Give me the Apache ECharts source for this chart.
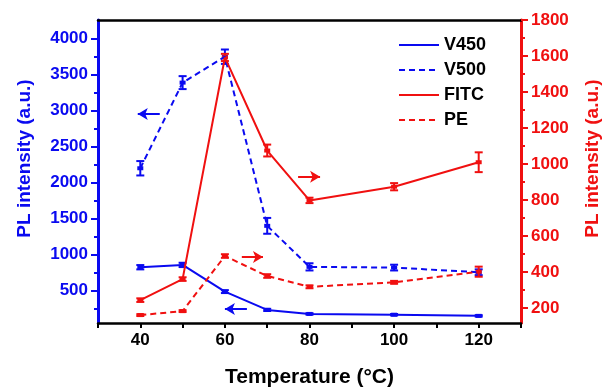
<!DOCTYPE html>
<html>
<head>
<meta charset="utf-8">
<script src="https://cdn.jsdelivr.net/npm/echarts@6/dist/echarts.min.js"></script>
<style>
  html, body { margin: 0; padding: 0; background: #fff; }
  #chart { width: 605px; height: 387px; }
</style>
</head>
<body>
<div id="chart"></div>
<script>
// temperatures (°C)
const temps = [40, 50, 60, 70, 80, 100, 120];

// left axis series
const v450 = [825, 857, 486, 232, 176, 165, 149];
const v450Err = [30, 30, 20, 15, 10, 10, 10];
const v500 = [2200, 3390, 3750, 1400, 830, 820, 755];
const v500Err = [100, 90, 100, 110, 50, 40, 40];

// right axis series
const fitc = [244, 361, 1592, 1075, 798, 874, 1010];
const fitcErr = [10, 10, 20, 33, 15, 20, 55];
const pe = [161, 183, 489, 378, 318, 343, 402];
const peErr = [5, 5, 10, 10, 8, 8, 28];

// tick labels
const xLabels = [40, 60, 80, 100, 120];
const leftLabels = [500, 1000, 1500, 2000, 2500, 3000, 3500, 4000];
const leftMinor = [250, 750, 1250, 1750, 2250, 2750, 3250, 3750];
const rightLabels = [200, 400, 600, 800, 1000, 1200, 1400, 1600, 1800];
const rightMinor = [300, 500, 700, 900, 1100, 1300, 1500, 1700];

const BLUE = '#0a0af0';
const RED = '#f01010';
const FONT = '"Liberation Sans", Arial, sans-serif';
const plain = v => String(v);

function errorSeries(name, vals, errs, color, yIdx) {
  return {
    type: 'custom',
    name: name + ' err',
    yAxisIndex: yIdx,
    silent: true,
    z: 3,
    data: temps.map((t, i) => [t, vals[i], errs[i]]),
    encode: { x: 0, y: 1 },
    renderItem: (params, api) => {
      const x = api.value(0), y = api.value(1), e = api.value(2);
      const p = api.coord([x, y]);
      const hi = api.coord([x, y + e]);
      const lo = api.coord([x, y - e]);
      const w = 4;
      const style = { stroke: color, lineWidth: 2 };
      return {
        type: 'group',
        children: [
          { type: 'line', shape: { x1: p[0], y1: hi[1], x2: p[0], y2: lo[1] }, style },
          { type: 'line', shape: { x1: p[0] - w, y1: hi[1], x2: p[0] + w, y2: hi[1] }, style },
          { type: 'line', shape: { x1: p[0] - w, y1: lo[1], x2: p[0] + w, y2: lo[1] }, style },
          { type: 'rect', shape: { x: p[0] - 3, y: p[1] - 2, width: 6, height: 4 }, style: { fill: color } }
        ]
      };
    }
  };
}

function arrow(from, to, color) {
  return {
    silent: true,
    symbol: ['none', 'arrow'],
    symbolSize: [9, 10],
    label: { show: false },
    emphasis: { disabled: true },
    lineStyle: { color: color, width: 2, type: 'solid' },
    data: [[{ coord: from }, { coord: to }]]
  };
}

function lineSeries(name, vals, color, dashed, yIdx, mark) {
  return {
    type: 'line',
    name: name,
    yAxisIndex: yIdx,
    symbol: 'none',
    data: temps.map((t, i) => [t, vals[i]]),
    lineStyle: { color: color, width: 2, type: dashed ? [6, 4] : 'solid' },
    itemStyle: { color: color },
    emphasis: { disabled: true },
    markLine: mark
  };
}

const chart = echarts.init(document.getElementById('chart'));
chart.setOption({
  animation: false,
  backgroundColor: '#fff',
  textStyle: { fontFamily: FONT },
  grid: { left: 98, right: 84, top: 20, bottom: 64, outerBoundsMode: 'none', containLabel: false },
  legend: {
    data: ['V450', 'V500', 'FITC', 'PE'],
    orient: 'vertical',
    left: 393,
    top: 30,
    itemWidth: 40,
    itemHeight: 14,
    itemGap: 5,
    itemStyle: { opacity: 0 },
    textStyle: { fontFamily: FONT, fontWeight: 'bold', fontSize: 18, color: '#000', lineHeight: 20 }
  },
  xAxis: [
    {
      type: 'value',
      min: 30,
      max: 130,
      interval: 10,
      name: 'Temperature (°C)',
      nameLocation: 'middle',
      nameGap: 44,
      nameTextStyle: { fontFamily: FONT, fontWeight: 'bold', fontSize: 21, color: '#000' },
      axisLine: { show: true, lineStyle: { color: '#000', width: 2.5 } },
      axisTick: { show: true, inside: false, length: 5, lineStyle: { color: '#000', width: 2 } },
      axisLabel: { customValues: xLabels, formatter: plain, margin: 9, fontFamily: FONT, fontWeight: 'bold', fontSize: 17, color: '#000' },
      splitLine: { show: false }
    },
    {
      type: 'value',
      position: 'top',
      min: 30,
      max: 130,
      axisLine: { show: true, onZero: false, lineStyle: { color: '#000', width: 2.5 } },
      axisTick: { show: false },
      axisLabel: { show: false },
      splitLine: { show: false }
    }
  ],
  yAxis: [
    {
      type: 'value',
      position: 'left',
      min: 50,
      max: 4260,
      name: 'PL intensity (a.u.)',
      nameLocation: 'middle',
      nameGap: 64,
      nameRotate: 90,
      nameTextStyle: { fontFamily: FONT, fontWeight: 'bold', fontSize: 19, color: BLUE, padding: [0, 0, 0, 26] },
      axisLine: { show: true, onZero: false, lineStyle: { color: BLUE, width: 3 } },
      axisTick: { show: true, inside: false, length: 7, customValues: leftLabels, lineStyle: { color: BLUE, width: 2 } },
      axisLabel: { customValues: leftLabels, formatter: plain, margin: 10, fontFamily: FONT, fontWeight: 'bold', fontSize: 17, color: BLUE },
      splitLine: { show: false }
    },
    {
      type: 'value',
      position: 'right',
      min: 117,
      max: 1800,
      name: 'PL intensity (a.u.)',
      nameLocation: 'middle',
      nameGap: 62,
      nameRotate: 90,
      nameTextStyle: { fontFamily: FONT, fontWeight: 'bold', fontSize: 19, color: RED, padding: [0, 0, 0, 26] },
      axisLine: { show: true, onZero: false, lineStyle: { color: RED, width: 3 } },
      axisTick: { show: true, inside: false, length: 7, customValues: rightLabels, lineStyle: { color: RED, width: 2 } },
      axisLabel: { customValues: rightLabels, formatter: plain, margin: 10, fontFamily: FONT, fontWeight: 'bold', fontSize: 17, color: RED },
      splitLine: { show: false }
    },
    {
      type: 'value',
      position: 'left',
      min: 50,
      max: 4260,
      axisLine: { show: false },
      axisTick: { show: true, inside: false, length: 4, customValues: leftMinor, lineStyle: { color: BLUE, width: 2 } },
      axisLabel: { show: false },
      splitLine: { show: false }
    },
    {
      type: 'value',
      position: 'right',
      min: 117,
      max: 1800,
      axisLine: { show: false },
      axisTick: { show: true, inside: false, length: 4, customValues: rightMinor, lineStyle: { color: RED, width: 2 } },
      axisLabel: { show: false },
      splitLine: { show: false }
    }
  ],
  series: [
    lineSeries('V450', v450, BLUE, false, 0, arrow([65.2, 246], [60.0, 246], BLUE)),
    lineSeries('V500', v500, BLUE, true, 0, arrow([44.6, 2954], [39.4, 2954], BLUE)),
    lineSeries('FITC', fitc, RED, false, 1, arrow([77.3, 929], [82.5, 929], RED)),
    lineSeries('PE', pe, RED, true, 1, arrow([64.0, 483], [69.0, 483], RED)),
    errorSeries('V450', v450, v450Err, BLUE, 0),
    errorSeries('V500', v500, v500Err, BLUE, 0),
    errorSeries('FITC', fitc, fitcErr, RED, 1),
    errorSeries('PE', pe, peErr, RED, 1)
  ]
});
</script>
</body>
</html>
